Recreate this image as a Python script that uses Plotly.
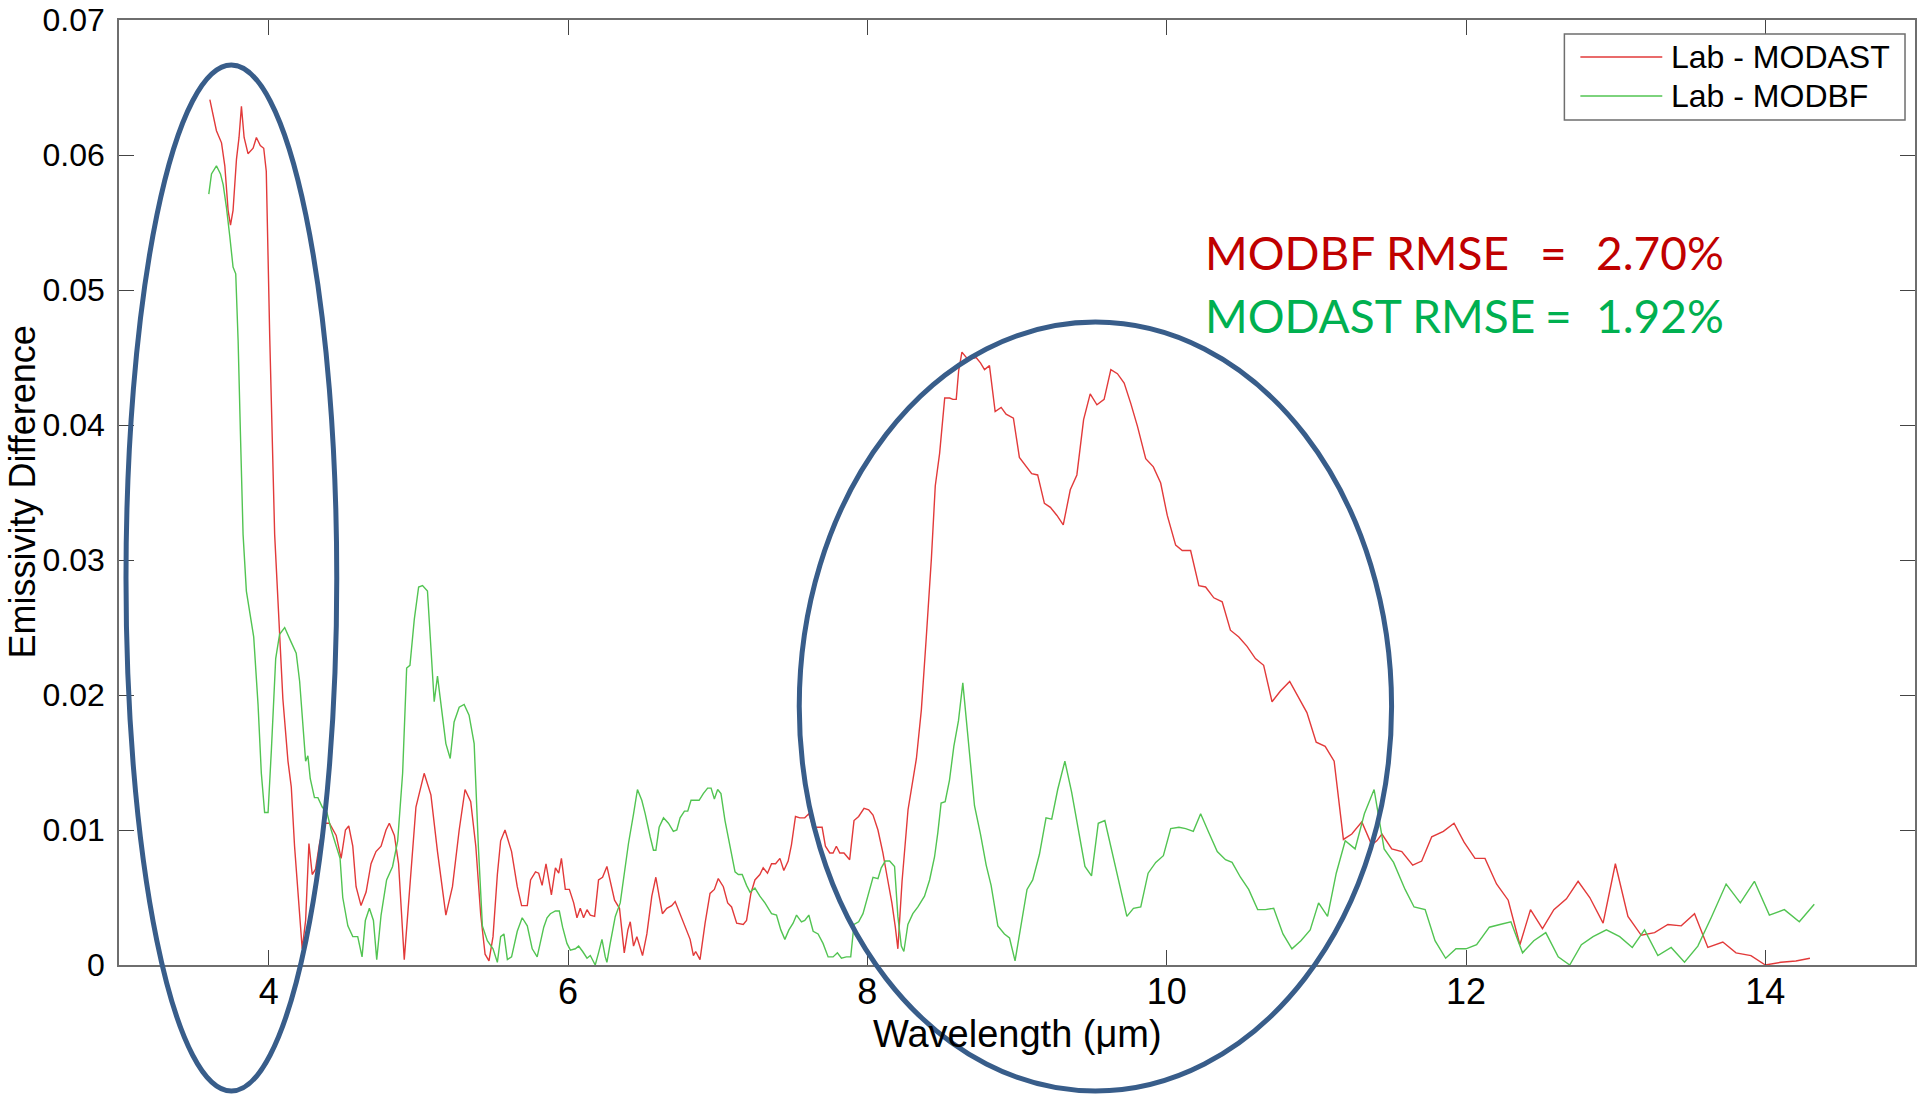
import plotly.graph_objects as go

# ---------------- data ----------------
modast_wl = [3.607, 3.629, 3.651, 3.685, 3.707, 3.729, 3.745, 3.762, 3.785, 3.802, 3.818, 3.836, 3.862, 3.896,
             3.918, 3.944, 3.967, 3.984, 4.007, 4.040, 4.069, 4.095, 4.129, 4.151, 4.173, 4.202, 4.224, 4.247,
             4.269, 4.291, 4.313, 4.340, 4.373, 4.406, 4.451, 4.484, 4.513, 4.535, 4.562, 4.584, 4.617, 4.651,
             4.684, 4.717, 4.751, 4.784, 4.806, 4.840, 4.868, 4.906, 4.939, 4.984, 5.039, 5.084, 5.128, 5.184,
             5.228, 5.273, 5.312, 5.350, 5.384, 5.417, 5.446, 5.472, 5.499, 5.528, 5.550, 5.579, 5.623, 5.661,
             5.690, 5.728, 5.750, 5.783,
             5.804, 5.827, 5.853, 5.889, 5.916, 5.938, 5.956, 5.982, 6.009, 6.038, 6.060, 6.082, 6.104, 6.127,
             6.149, 6.178, 6.204, 6.231, 6.260, 6.282, 6.311, 6.344, 6.376, 6.400, 6.416, 6.438, 6.460, 6.498,
             6.527, 6.560, 6.587, 6.609, 6.631, 6.660, 6.693, 6.716, 6.749, 6.782, 6.816, 6.838, 6.853, 6.882,
             6.916, 6.949, 6.978, 7.004, 7.038, 7.067, 7.093, 7.127, 7.171, 7.193, 7.222, 7.249, 7.282, 7.304,
             7.333, 7.360, 7.387, 7.416, 7.442, 7.471, 7.493, 7.520, 7.549, 7.582, 7.609, 7.638, 7.667, 7.698,
             7.720, 7.749, 7.771, 7.793, 7.816, 7.844, 7.882, 7.911, 7.942, 7.978, 8.009, 8.038, 8.071, 8.104,
             8.133, 8.164, 8.187, 8.204,
             8.232, 8.272, 8.328, 8.361, 8.394, 8.428, 8.454, 8.483, 8.517, 8.550, 8.572, 8.594, 8.610, 8.632,
             8.661, 8.690, 8.727, 8.756, 8.783, 8.816, 8.854, 8.894, 8.927, 8.976, 9.016, 9.061, 9.098, 9.138,
             9.183, 9.223, 9.267, 9.309, 9.356, 9.400, 9.445, 9.489, 9.534, 9.582, 9.627, 9.671, 9.716, 9.760,
             9.805, 9.860, 9.911, 9.960, 10.004, 10.060, 10.104, 10.160, 10.215, 10.260, 10.315, 10.371, 10.426,
             10.482, 10.537, 10.593, 10.648, 10.704, 10.760, 10.822, 10.882, 10.937, 10.999, 11.059, 11.119,
             11.181, 11.237, 11.304, 11.370,
             11.404, 11.438, 11.504, 11.571, 11.644, 11.704, 11.771, 11.849, 11.920, 11.987, 12.060, 12.127,
             12.204, 12.282, 12.360, 12.431, 12.511, 12.587, 12.671, 12.749, 12.827, 12.916, 12.998, 13.082,
             13.171, 13.260, 13.349, 13.438, 13.527, 13.616, 13.716, 13.804, 13.904, 14.000, 14.104, 14.204,
             14.298]
modast_diff = [0.0641, 0.0630, 0.0618, 0.0609, 0.0592, 0.0559, 0.0548, 0.0559, 0.0597, 0.0613, 0.0636, 0.0613,
               0.0601, 0.0605, 0.0613, 0.0607, 0.0605, 0.0588, 0.0466, 0.0319, 0.0252, 0.0197, 0.0151, 0.0132,
               0.0088, 0.0042, 0.0012, 0.0033, 0.0090, 0.0067, 0.0071, 0.0090, 0.0105, 0.0105, 0.0096, 0.0079,
               0.0100, 0.0103, 0.0088, 0.0058, 0.0044, 0.0054, 0.0075, 0.0084, 0.0088, 0.0100, 0.0105, 0.0096,
               0.0075, 0.0004, 0.0054, 0.0117, 0.0142, 0.0126, 0.0084, 0.0037, 0.0058, 0.0100, 0.0130, 0.0121,
               0.0088, 0.0037, 0.0008, 0.0003, 0.0021, 0.0067, 0.0092, 0.0100, 0.0084, 0.0058, 0.0044, 0.0044,
               0.0063, 0.0069,
               0.0068, 0.0059, 0.0075, 0.0052, 0.0072, 0.0068, 0.0079, 0.0056, 0.0056, 0.0046, 0.0035, 0.0042,
               0.0035, 0.0041, 0.0037, 0.0036, 0.0063, 0.0065, 0.0073, 0.0063, 0.0048, 0.0042, 0.0009, 0.0026,
               0.0032, 0.0014, 0.0021, 0.0007, 0.0023, 0.0051, 0.0065, 0.0051, 0.0038, 0.0042, 0.0044, 0.0047,
               0.0038, 0.0028, 0.0019, 0.0007, 0.0010, 0.0004, 0.0031, 0.0053, 0.0056, 0.0064, 0.0058, 0.0046,
               0.0043, 0.0031, 0.0030, 0.0033, 0.0053, 0.0063, 0.0067, 0.0072, 0.0068, 0.0075, 0.0075, 0.0079,
               0.0070, 0.0077, 0.0089, 0.0110, 0.0109, 0.0109, 0.0112, 0.0102, 0.0102, 0.0102, 0.0088, 0.0083,
               0.0083, 0.0088, 0.0083, 0.0083, 0.0078, 0.0107, 0.0110, 0.0116, 0.0115, 0.0111, 0.0100, 0.0083,
               0.0065, 0.0046, 0.0028, 0.0012,
               0.0062, 0.0115, 0.0153, 0.0189, 0.0243, 0.0301, 0.0355, 0.0379, 0.0420, 0.0420, 0.0419, 0.0419,
               0.0440, 0.0454, 0.0450, 0.0449, 0.0450, 0.0446, 0.0441, 0.0444, 0.0410, 0.0413, 0.0408, 0.0405,
               0.0376, 0.0369, 0.0364, 0.0363, 0.0342, 0.0339, 0.0333, 0.0326, 0.0352, 0.0363, 0.0404, 0.0423,
               0.0415, 0.0419, 0.0441, 0.0438, 0.0431, 0.0416, 0.0399, 0.0375, 0.0369, 0.0357, 0.0333, 0.0311,
               0.0307, 0.0307, 0.0281, 0.0280, 0.0272, 0.0269, 0.0248, 0.0243, 0.0236, 0.0227, 0.0222, 0.0195,
               0.0203, 0.0210, 0.0198, 0.0187, 0.0165, 0.0162, 0.0151, 0.0093, 0.0097, 0.0106, 0.0089,
               0.0092, 0.0097, 0.0086, 0.0084, 0.0074, 0.0077, 0.0095, 0.0099, 0.0105, 0.0091, 0.0079, 0.0079,
               0.0060, 0.0048, 0.0015, 0.0041, 0.0027, 0.0041, 0.0049, 0.0062, 0.0050, 0.0031, 0.0075, 0.0036,
               0.0022, 0.0024, 0.0030, 0.0029, 0.0038, 0.0013, 0.0017, 0.0009, 0.0007, 0.0000, 0.0002, 0.0003,
               0.0005]

modbf_wl = [3.600, 3.618, 3.651, 3.678, 3.696, 3.718, 3.740, 3.762, 3.780, 3.796, 3.811, 3.829, 3.851, 3.878,
            3.900, 3.929, 3.951, 3.973, 3.996, 4.018, 4.047, 4.073, 4.107, 4.151, 4.184, 4.207, 4.229, 4.247,
            4.262, 4.278, 4.306, 4.329, 4.358, 4.389, 4.418, 4.451, 4.477, 4.495, 4.529, 4.562, 4.595, 4.624,
            4.646, 4.673, 4.700, 4.722, 4.751, 4.788, 4.828, 4.862, 4.895, 4.922, 4.944, 4.973, 5.002, 5.028,
            5.061, 5.084, 5.106, 5.128, 5.151, 5.184, 5.213, 5.239, 5.273, 5.306, 5.339, 5.373, 5.401, 5.428,
            5.461, 5.499, 5.528, 5.550, 5.572, 5.595, 5.623, 5.661, 5.694, 5.728, 5.761, 5.794,
            5.838, 5.860, 5.882, 5.916, 5.942, 5.964, 5.993, 6.016, 6.049, 6.071, 6.098, 6.127, 6.149, 6.182,
            6.204, 6.227, 6.249, 6.260, 6.282, 6.316, 6.349, 6.382, 6.404, 6.438, 6.464, 6.493, 6.516, 6.549,
            6.571, 6.587, 6.609, 6.638, 6.671, 6.704, 6.727, 6.749, 6.778, 6.800, 6.822, 6.849, 6.876, 6.904,
            6.933, 6.956, 6.978, 7.000, 7.022, 7.049, 7.082, 7.116, 7.138, 7.164, 7.193, 7.216, 7.249, 7.282,
            7.316, 7.360, 7.393, 7.422, 7.449, 7.476, 7.504, 7.527, 7.560, 7.582, 7.609, 7.638, 7.671, 7.704,
            7.738, 7.771, 7.800, 7.827, 7.860, 7.889, 7.911, 7.942, 7.971, 8.004, 8.038, 8.071, 8.093, 8.120,
            8.149, 8.182, 8.204, 8.227, 8.244, 8.271, 8.304, 8.338, 8.382, 8.416, 8.449, 8.471, 8.493, 8.520,
            8.549, 8.578, 8.609, 8.638,
            8.672, 8.716, 8.756, 8.794, 8.827, 8.872, 8.916, 8.950, 8.987, 9.027, 9.067, 9.105, 9.150, 9.194,
            9.232, 9.272, 9.320, 9.365, 9.409, 9.454, 9.498, 9.543, 9.587, 9.638, 9.682, 9.734, 9.778, 9.827,
            9.876, 9.927, 9.978, 10.027, 10.082, 10.127, 10.178, 10.227, 10.282, 10.338, 10.393, 10.437,
            10.493, 10.548, 10.608, 10.660, 10.715, 10.777, 10.837, 10.897, 10.959, 11.015, 11.075, 11.133,
            11.193, 11.259, 11.321, 11.386, 11.421,
            11.453, 11.516, 11.593, 11.653, 11.727, 11.793, 11.864, 11.933, 12.000, 12.071, 12.156, 12.227,
            12.300, 12.378, 12.453, 12.533, 12.616, 12.693, 12.771, 12.849, 12.938, 13.027, 13.111, 13.193,
            13.282, 13.371, 13.460, 13.549, 13.638, 13.738, 13.833, 13.927, 14.027, 14.127, 14.227, 14.327]
modbf_diff = [0.0571, 0.0586, 0.0592, 0.0586, 0.0578, 0.0561, 0.0540, 0.0517, 0.0512, 0.0462, 0.0395, 0.0319,
              0.0277, 0.0260, 0.0243, 0.0193, 0.0142, 0.0113, 0.0113, 0.0159, 0.0227, 0.0245, 0.0250, 0.0239,
              0.0231, 0.0210, 0.0176, 0.0151, 0.0155, 0.0138, 0.0124, 0.0124, 0.0117, 0.0113, 0.0100, 0.0088,
              0.0079, 0.0050, 0.0029, 0.0021, 0.0021, 0.0006, 0.0033, 0.0042, 0.0033, 0.0004, 0.0037, 0.0063,
              0.0073, 0.0092, 0.0142, 0.0220, 0.0222, 0.0256, 0.0280, 0.0281, 0.0277, 0.0235, 0.0195, 0.0214,
              0.0193, 0.0164, 0.0153, 0.0180, 0.0191, 0.0193, 0.0185, 0.0164, 0.0088, 0.0029, 0.0018, 0.0012,
              0.0002, 0.0021, 0.0023, 0.0004, 0.0006, 0.0025, 0.0035, 0.0029, 0.0012, 0.0006,
              0.0028, 0.0035, 0.0038, 0.0040, 0.0040, 0.0028, 0.0016, 0.0011, 0.0012, 0.0014, 0.0010, 0.0005,
              0.0007, 0.0000, 0.0009, 0.0019, 0.0006, 0.0002, 0.0016, 0.0036, 0.0046, 0.0073, 0.0090, 0.0112,
              0.0130, 0.0122, 0.0112, 0.0095, 0.0085, 0.0085, 0.0102, 0.0109, 0.0105, 0.0099, 0.0100, 0.0109,
              0.0114, 0.0114, 0.0122, 0.0122, 0.0122, 0.0127, 0.0131, 0.0131, 0.0123, 0.0130, 0.0127, 0.0107,
              0.0088, 0.0069, 0.0067, 0.0067, 0.0059, 0.0054, 0.0057, 0.0051, 0.0046, 0.0038, 0.0037, 0.0026,
              0.0019, 0.0026, 0.0031, 0.0037, 0.0032, 0.0033, 0.0037, 0.0025, 0.0023, 0.0016, 0.0006, 0.0006,
              0.0009, 0.0005, 0.0006, 0.0006, 0.0030, 0.0032, 0.0038, 0.0052, 0.0065, 0.0064, 0.0072, 0.0077,
              0.0077, 0.0073, 0.0036, 0.0014, 0.0010, 0.0030, 0.0038, 0.0043, 0.0051, 0.0063, 0.0080, 0.0098,
              0.0120, 0.0121, 0.0137, 0.0162, 0.0181, 0.0209,
              0.0168, 0.0118, 0.0097, 0.0074, 0.0059, 0.0029, 0.0023, 0.0020, 0.0003, 0.0029, 0.0056, 0.0063,
              0.0082, 0.0109, 0.0108, 0.0130, 0.0151, 0.0128, 0.0101, 0.0073, 0.0066, 0.0105, 0.0107, 0.0083,
              0.0060, 0.0036, 0.0042, 0.0043, 0.0068, 0.0076, 0.0081, 0.0101, 0.0102, 0.0101, 0.0099, 0.0112,
              0.0098, 0.0084, 0.0078, 0.0076, 0.0065, 0.0056, 0.0041, 0.0041, 0.0042, 0.0023, 0.0012, 0.0018,
              0.0026, 0.0046, 0.0036, 0.0068, 0.0092, 0.0086, 0.0112, 0.0130, 0.0107,
              0.0086, 0.0076, 0.0056, 0.0043, 0.0041, 0.0018, 0.0005, 0.0012, 0.0012, 0.0015, 0.0028, 0.0030,
              0.0032, 0.0009, 0.0018, 0.0024, 0.0006, 0.0000, 0.0015, 0.0021, 0.0026, 0.0021, 0.0013, 0.0026,
              0.0007, 0.0013, 0.0002, 0.0014, 0.0035, 0.0060, 0.0046, 0.0062, 0.0037, 0.0041, 0.0032, 0.0045]

series_names = ["Lab - MODAST", "Lab - MODBF"]
x_tick_vals = [4, 6, 8, 10, 12, 14]
y_tick_vals = [0, 0.01, 0.02, 0.03, 0.04, 0.05, 0.06, 0.07]
y_tick_text = ["0", "0.01", "0.02", "0.03", "0.04", "0.05", "0.06", "0.07"]
rmse_labels = ["MODBF RMSE", "MODAST RMSE"]
rmse_values = ["2.70%", "1.92%"]

# ---------------- layout geometry ----------------
W, H = 1917, 1094
ML, MR, MT, MB = 119, 0, 20, 129
PW, PH = W - ML - MR, H - MT - MB


def px(xp):
    return (xp - ML) / PW


def py(yp):
    return (H - MB - yp) / PH


FONT = "Liberation Sans, Arial, Helvetica, sans-serif"
RED = "rgb(226,58,58)"
GREEN = "rgb(82,196,82)"
series_colors = [RED, GREEN]

fig = go.Figure()
fig.add_trace(go.Scatter(x=modast_wl, y=modast_diff, mode="lines", name=series_names[0],
                         line=dict(color=RED, width=1.4), showlegend=False))
fig.add_trace(go.Scatter(x=modbf_wl, y=modbf_diff, mode="lines", name=series_names[1],
                         line=dict(color=GREEN, width=1.4), showlegend=False))

axis_common = dict(showline=True, linecolor="#6e6e6e", linewidth=1.5, mirror="ticks",
                   ticks="inside", ticklen=15, tickwidth=1.3, tickcolor="#444444",
                   showgrid=False, zeroline=False)

fig.update_layout(
    width=W, height=H,
    margin=dict(l=ML, r=MR, t=MT, b=MB, pad=0),
    paper_bgcolor="white", plot_bgcolor="white",
    xaxis=dict(range=[3, 15], tickvals=x_tick_vals, ticklabelstandoff=-6,
               tickfont=dict(family=FONT, size=36, color="black"), **axis_common),
    yaxis=dict(range=[0, 0.07], tickvals=y_tick_vals, ticktext=y_tick_text, ticklabelstandoff=6,
               tickfont=dict(family=FONT, size=32, color="black"), **axis_common),
    showlegend=False,
)

# axis titles
fig.add_annotation(text="Wavelength (\u03bcm)", xref="paper", yref="paper", x=0.5, y=py(1034),
                   xanchor="center", yanchor="middle", showarrow=False,
                   font=dict(family=FONT, size=38, color="black"))
fig.add_annotation(text="Emissivity Difference", xref="paper", yref="paper", x=px(22), y=0.5,
                   xanchor="center", yanchor="middle", textangle=-90, showarrow=False,
                   font=dict(family=FONT, size=36, color="black"))

# legend box (top right, inside the axes)
fig.add_shape(type="rect", xref="paper", yref="paper", x0=px(1566), x1=px(1907), y0=py(120), y1=py(34),
              line=dict(color="#6e6e6e", width=1.5), fillcolor="white", layer="above")
legend_rows = [57, 96]
for i in range(2):
    fig.add_shape(type="line", xref="paper", yref="paper", x0=px(1582), x1=px(1664),
                  y0=py(legend_rows[i]), y1=py(legend_rows[i]),
                  line=dict(color=series_colors[i], width=1.4), layer="above")
    fig.add_annotation(text=series_names[i], xref="paper", yref="paper", x=px(1671), y=py(legend_rows[i]),
                       xanchor="left", yanchor="middle", showarrow=False,
                       font=dict(family=FONT, size=32, color="black"))

# RMSE text
RMSE_FONT = "Lato, Open Sans, sans-serif"
rmse_colors = ["#C00000", "#00B050"]
line_y = [253, 316]
eq_x = [1555, 1560]
for i in range(2):
    f = dict(family=RMSE_FONT, size=46, color=rmse_colors[i])
    fig.add_annotation(text=rmse_labels[i], xref="paper", yref="paper", x=px(1204), y=py(line_y[i]),
                       xanchor="left", yanchor="middle", showarrow=False, font=f)
    fig.add_annotation(text="=", xref="paper", yref="paper", x=px(eq_x[i]), y=py(line_y[i]),
                       xanchor="center", yanchor="middle", showarrow=False, font=f)
    fig.add_annotation(text=rmse_values[i], xref="paper", yref="paper", x=px(1728), y=py(line_y[i]),
                       xanchor="right", yanchor="middle", showarrow=False, font=f)

# highlighting ellipses
ELL = "#385D8A"
for (x0, x1, y0, y1) in [(126, 337, 65, 1091), (800, 1393, 322, 1091)]:
    fig.add_shape(type="circle", xref="paper", yref="paper",
                  x0=px(x0), x1=px(x1), y0=py(y1), y1=py(y0),
                  line=dict(color=ELL, width=5), layer="above")

fig.write_html("out.html")
